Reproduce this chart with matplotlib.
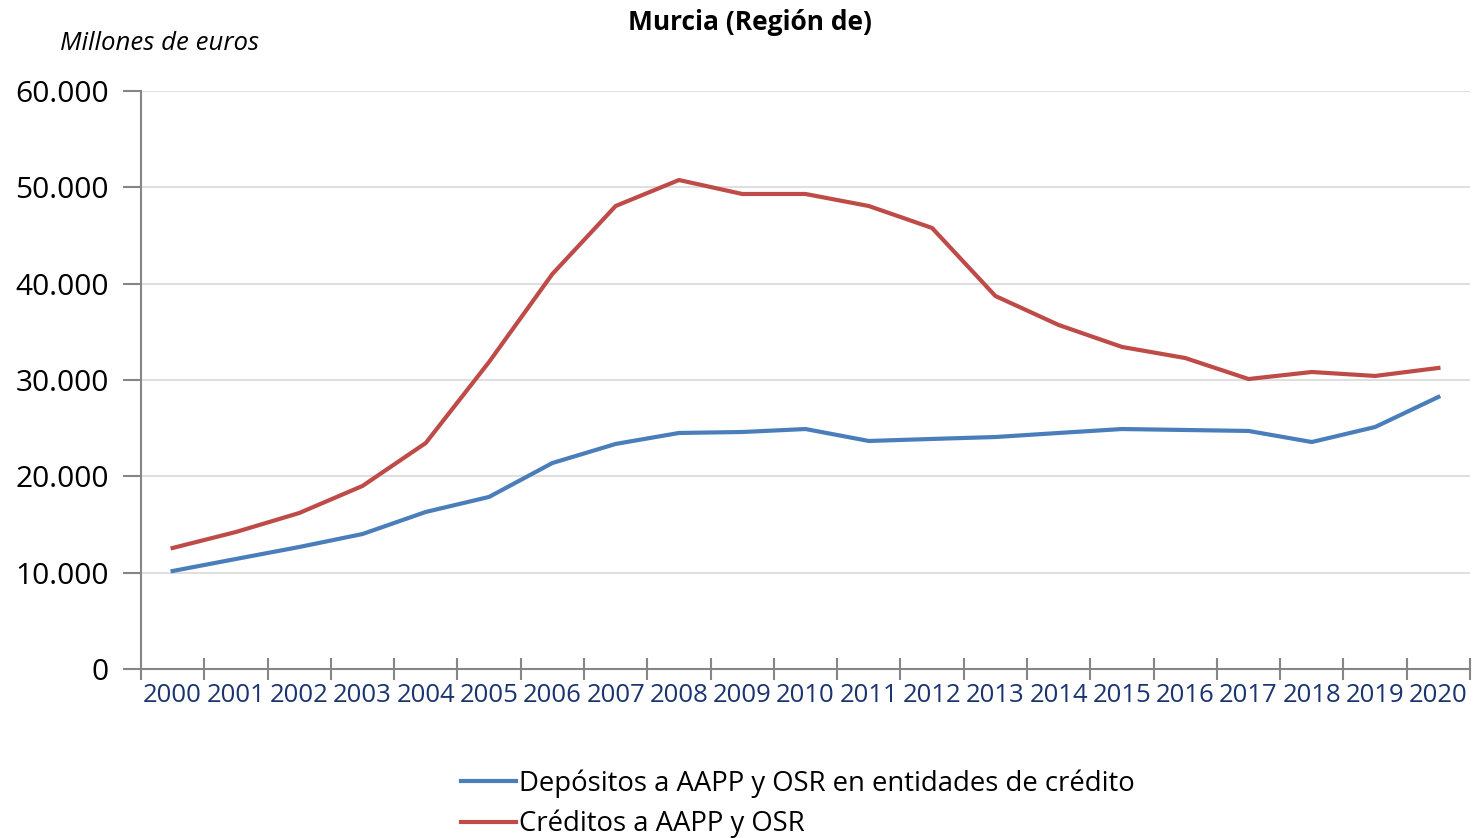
import matplotlib
matplotlib.use("Agg")
import matplotlib.pyplot as plt
import numpy as np

plt.rcParams['font.family'] = ['Open Sans', 'DejaVu Sans']

years = [str(y) for y in range(2000, 2021)]
depositos = [10170, 11420, 12660, 14010, 16300, 17860, 21380, 23360, 24500, 24600, 24910,
             23670, 23880, 24080, 24500, 24910, 24810, 24710, 23560, 25120, 28240]
creditos = [12560, 14220, 16190, 19000, 23460, 31870, 41000, 48060, 50760, 49310, 49310,
            48060, 45780, 38720, 35710, 33430, 32280, 30100, 30830, 30420, 31250]
yticks = [0, 10000, 20000, 30000, 40000, 50000, 60000]
ytick_labels = ['0', '10.000', '20.000', '30.000', '40.000', '50.000', '60.000']

fig = plt.figure(figsize=(14.73, 8.38), dpi=100)
ax = fig.add_axes([0.0957, 0.2017, 0.9023, 0.6897])

x = np.arange(len(years))
ax.plot(x, depositos, color='#4A7EBB', lw=3.0, label='Depósitos a AAPP y OSR en entidades de crédito')
ax.plot(x, creditos, color='#BE4B48', lw=3.0, label='Créditos a AAPP y OSR')

ax.set_xlim(-0.5, len(years) - 0.5)
ax.set_ylim(0, 60000)
ax.set_yticks(yticks)
ax.set_yticklabels(ytick_labels, fontsize=21.5)
ax.yaxis.grid(True, color='#D9D9D9', lw=1.2)
ax.set_axisbelow(True)

# category axis: ticks between categories, labels centred
ax.set_xticks(np.arange(-0.5, len(years)), minor=False)
ax.set_xticklabels([])
ax.set_xticks(x, minor=True)
ax.set_xticklabels(years, minor=True, fontsize=18.5, color='#1A3470')
ax.tick_params(axis='x', which='major', direction='inout', length=16, width=1.5, color='#868686')
ax.tick_params(axis='x', which='minor', length=0, pad=10)
ax.tick_params(axis='y', direction='out', length=13, width=1.5, color='#868686', pad=10)

for s in ['top', 'right']:
    ax.spines[s].set_visible(False)
for s in ['left', 'bottom']:
    ax.spines[s].set_color('#868686')
    ax.spines[s].set_linewidth(1.5)

fig.text(750 / 1473, 1 - 23 / 838, 'Murcia (Región de)', ha='center', va='center',
         fontsize=19, fontweight='bold')
fig.text(60 / 1473, 1 - 43 / 838, 'Millones de euros', ha='left', va='center',
         fontsize=18.5, style='italic')

fig.legend(loc='upper left', bbox_to_anchor=(450 / 1473, 1 - 758 / 838), frameon=False,
           fontsize=19.8, handlelength=2.0, handletextpad=0.12, labelspacing=0.45,
           borderaxespad=0)

fig.savefig('out.png', dpi=100)
